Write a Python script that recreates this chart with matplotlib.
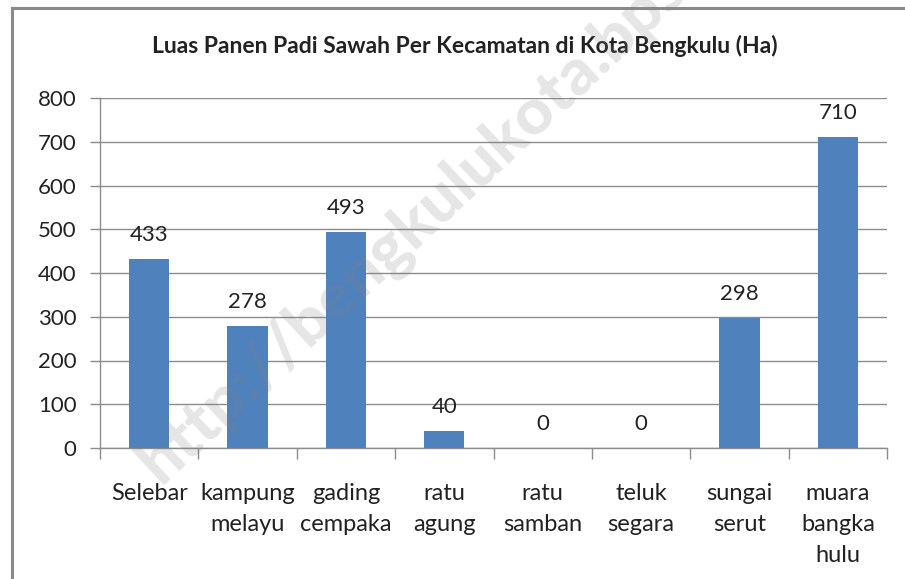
import matplotlib

matplotlib.use("Agg")
import matplotlib.pyplot as plt
from matplotlib.lines import Line2D
import numpy as np

plt.rcParams["font.family"] = ["Lato", "DejaVu Sans"]

TITLE = "Luas Panen Padi Sawah Per Kecamatan di Kota Bengkulu (Ha)"
CATEGORIES = [
    "Selebar",
    "kampung\nmelayu",
    "gading\ncempaka",
    "ratu\nagung",
    "ratu\nsamban",
    "teluk\nsegara",
    "sungai\nserut",
    "muara\nbangka\nhulu",
]
VALUES = [433, 278, 493, 40, 0, 0, 298, 710]
Y_TICKS = [0, 100, 200, 300, 400, 500, 600, 700, 800]
WATERMARK = "http://bengkulukota.bps.go.id"

BAR_COLOR = "#4F81BD"
GRID_COLOR = "#8C8C8C"


def main() -> None:
    fig = plt.figure(figsize=(9.05, 5.79), dpi=100)
    fig.patch.set_facecolor("white")

    # outer chart border (only top and left visible in the reference)
    fig.add_artist(Line2D([12 / 905, 12 / 905], [0, 1 - 8 / 579], color="#8a8a8a", lw=2.2))
    fig.add_artist(Line2D([12 / 905, 1], [1 - 8 / 579, 1 - 8 / 579], color="#8a8a8a", lw=2.2))

    ax = fig.add_axes([100 / 905, 131 / 579, 787 / 905, 350 / 579])
    x = np.arange(len(CATEGORIES))
    bars = ax.bar(x, VALUES, width=0.41, color=BAR_COLOR, zorder=3)

    for rect, val in zip(bars, VALUES):
        ax.annotate(
            str(val),
            (rect.get_x() + rect.get_width() / 2, rect.get_height()),
            xytext=(0, 10),
            textcoords="offset points",
            ha="center",
            va="bottom",
            fontsize=16,
            color="#222222",
        )

    ax.set_xlim(-0.5, len(CATEGORIES) - 0.5)
    ax.set_ylim(0, 800)
    ax.set_yticks(Y_TICKS)
    ax.set_yticklabels([str(v) for v in Y_TICKS], fontsize=16, color="#222222")
    ax.set_xticks(x)
    ax.set_xticklabels(CATEGORIES, fontsize=17, color="#222222", linespacing=1.6)
    ax.set_xticks(np.arange(len(CATEGORIES) + 1) - 0.5, minor=True)
    ax.tick_params(axis="x", which="major", length=0, pad=25)
    ax.tick_params(axis="x", which="minor", length=8, width=1, color=GRID_COLOR)
    ax.tick_params(axis="y", length=7, width=1, color=GRID_COLOR, pad=10)

    ax.yaxis.grid(True, color=GRID_COLOR, lw=1, zorder=0)
    for side in ["top", "right"]:
        ax.spines[side].set_visible(False)
    for side in ["left", "bottom"]:
        ax.spines[side].set_color(GRID_COLOR)
        ax.spines[side].set_linewidth(1)

    fig.text(465 / 905, 1 - 46 / 579, TITLE, ha="center", va="center", fontsize=16.5, fontweight="bold", color="#222222")

    # diagonal watermark
    fig.text(
        160 / 905,
        1 - 485 / 579,
        WATERMARK,
        rotation=43,
        rotation_mode="anchor",
        ha="left",
        va="baseline",
        fontsize=47,
        fontweight="black",
        color="#808080",
        alpha=0.2,
        zorder=10,
    )

    fig.savefig("out.png", dpi=100)
    plt.close(fig)


if __name__ == "__main__":
    main()
